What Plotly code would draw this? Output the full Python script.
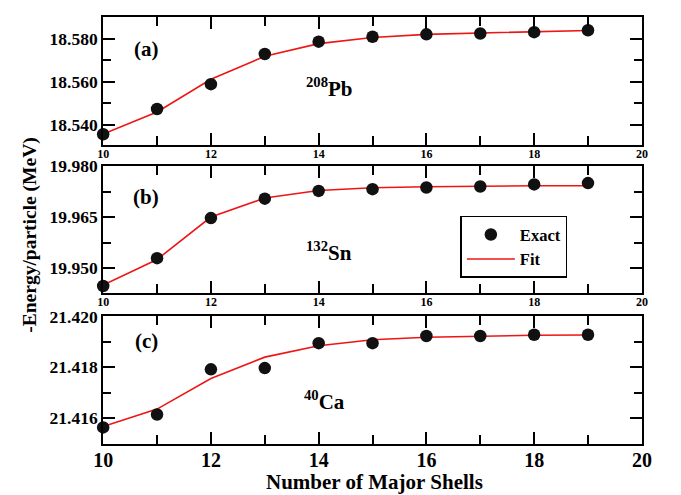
import plotly.graph_objects as go

# Number of major oscillator shells
shells = [10, 11, 12, 13, 14, 15, 16, 17, 18, 19]

# 208Pb: -E/A (MeV)
pb_exact = [18.5357, 18.5474, 18.5589, 18.5729, 18.5786, 18.5809, 18.5820, 18.5824, 18.5830, 18.5839]
pb_fit = [18.5358, 18.5460, 18.5612, 18.5718, 18.5777, 18.5805, 18.5820, 18.5826, 18.5832, 18.5838]

# 132Sn: -E/A (MeV)
sn_exact = [19.9447, 19.9529, 19.9647, 19.9704, 19.9727, 19.9732, 19.9737, 19.9740, 19.9746, 19.9750]
sn_fit = [19.9450, 19.9525, 19.9650, 19.9706, 19.9728, 19.9736, 19.9739, 19.9741, 19.9742, 19.9742]

# 40Ca: -E/A (MeV)
ca_exact = [21.41564, 21.41615, 21.41792, 21.41797, 21.41895, 21.41895, 21.41923, 21.41923, 21.41928, 21.41928]
ca_fit = [21.41568, 21.41636, 21.41756, 21.41840, 21.41885, 21.41908, 21.41918, 21.41923, 21.41926, 21.41927]

panel_tags = ["(a)", "(b)", "(c)"]
nuclei = ["<sup>208</sup>Pb", "<sup>132</sup>Sn", "<sup>40</sup>Ca"]

FONT = "Liberation Serif"
W, H = 681, 495

fig = go.Figure()

panels = [
    dict(exact=pb_exact, fit=pb_fit, top=7, bottom=138, rng=[18.5306, 18.5901],
         tick0=18.54, dtick=0.02, xfs=12, stand=-4, tag_y=0.75, nuc_x=14.2, nuc_y=0.45),
    dict(exact=sn_exact, fit=sn_fit, top=159.3, bottom=289.3, rng=[19.9425, 19.980],
         tick0=19.95, dtick=0.015, xfs=12, stand=-4, tag_y=0.76, nuc_x=14.2, nuc_y=0.33),
    dict(exact=ca_exact, fit=ca_fit, top=312.7, bottom=442.7, rng=[21.415, 21.420],
         tick0=21.416, dtick=0.002, xfs=20, stand=-3, tag_y=0.81, nuc_x=14.1, nuc_y=0.34),
]

x0, x1 = 96 / W, 651 / W
annotations = []
for i, p in enumerate(panels):
    n = i + 1
    xa = "x" if n == 1 else f"x{n}"
    ya = "y" if n == 1 else f"y{n}"
    fig.add_trace(go.Scatter(
        x=shells, y=p["fit"], mode="lines", name="Fit",
        line=dict(color="#ee1515", width=1.6),
        xaxis=xa, yaxis=ya, showlegend=(n == 2), legendrank=2, cliponaxis=False,
    ))
    fig.add_trace(go.Scatter(
        x=shells, y=p["exact"], mode="markers", name="Exact",
        marker=dict(color="#111111", size=12.5, symbol="circle"),
        xaxis=xa, yaxis=ya, showlegend=(n == 2), legendrank=1, cliponaxis=False,
    ))
    dom_y = [1 - p["bottom"] / H, 1 - p["top"] / H]
    axis_common = dict(
        showline=True, linecolor="black", linewidth=2, mirror="allticks",
        ticks="inside", ticklen=12, tickwidth=1.5, tickcolor="black",
        showgrid=False, zeroline=False,
    )
    fig.layout[f"xaxis{'' if n == 1 else n}"] = dict(
        domain=[x0, x1], anchor=ya, range=[10, 20], tick0=10, dtick=2,
        minor=dict(dtick=1, ticks="inside", ticklen=9, tickwidth=1.5, tickcolor="black"),
        tickfont=dict(family=FONT, size=p["xfs"], color="black", weight="bold"),
        ticklabelstandoff=p["stand"],
        **axis_common,
    )
    fig.layout[f"yaxis{'' if n == 1 else n}"] = dict(
        domain=dom_y, anchor=xa, range=p["rng"], tick0=p["tick0"], dtick=p["dtick"],
        tickformat=".3f",
        minor=dict(dtick=p["dtick"] / 2, ticks="inside", ticklen=8, tickwidth=1.5, tickcolor="black"),
        tickfont=dict(family=FONT, size=17.5, color="black", weight="bold"),
        ticklabelstandoff=0,
        **axis_common,
    )
    annotations.append(dict(
        x=10.8, y=p["tag_y"], xref=xa, yref=f"{ya} domain", text=f"<b>{panel_tags[i]}</b>",
        showarrow=False, font=dict(family=FONT, size=21, color="black"),
        xanchor="center", yanchor="middle",
    ))
    annotations.append(dict(
        x=p["nuc_x"], y=p["nuc_y"], xref=xa, yref=f"{ya} domain", text=f"<b>{nuclei[i]}</b>",
        showarrow=False, font=dict(family=FONT, size=21, color="black"),
        xanchor="center", yanchor="middle",
    ))

annotations.append(dict(
    x=21 / W, y=1 - 230 / H, xref="paper", yref="paper", text="<b>-Energy/particle (MeV)</b>",
    textangle=-90, showarrow=False, font=dict(family=FONT, size=19.5, color="black"),
    xanchor="center", yanchor="middle",
))
annotations.append(dict(
    x=376 / W, y=1 - 482 / H, xref="paper", yref="paper",
    text="<b>Number of Major Shells</b>",
    showarrow=False, font=dict(family=FONT, size=21, color="black"),
    xanchor="center", yanchor="middle",
))

fig.update_layout(
    width=W, height=H,
    margin=dict(l=0, r=0, t=0, b=0),
    paper_bgcolor="white", plot_bgcolor="white",
    annotations=annotations,
    legend=dict(
        x=464 / W, y=1 - 210 / H, xanchor="left", yanchor="top",
        bordercolor="black", borderwidth=1.5, bgcolor="white",
        font=dict(family=FONT, size=16.5, color="black", weight="bold"),
        tracegroupgap=0, itemwidth=48,
    ),
)

fig.write_html("out.html")
